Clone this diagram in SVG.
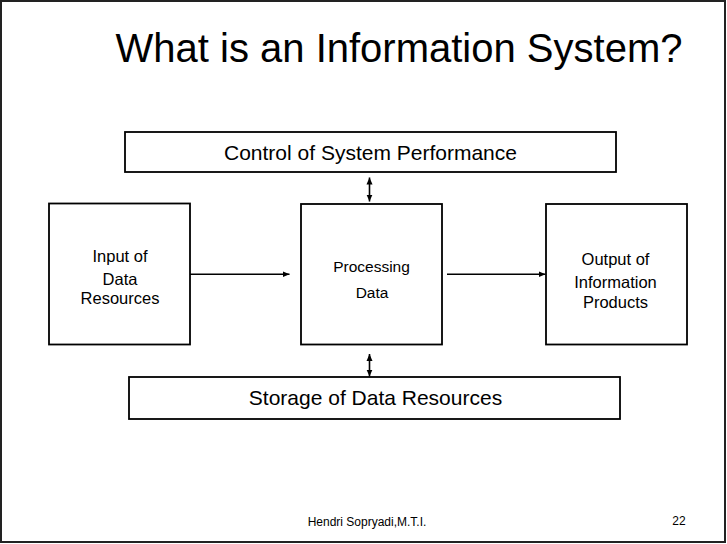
<svg xmlns="http://www.w3.org/2000/svg" width="727" height="544" viewBox="0 0 727 544">
<defs>
<style>
.box{fill:#fff;stroke:#000;stroke-width:1.8}
.t{font-family:"Liberation Sans",Arial,sans-serif;fill:#000;text-anchor:middle}
.c{stroke:#000;stroke-width:1.6;fill:none}
</style>
<marker id="ah" markerUnits="userSpaceOnUse" markerWidth="8" markerHeight="8" viewBox="0 0 8 8" refX="7" refY="4" orient="auto-start-reverse">
<path d="M0,1 L7,4 L0,7 Z" fill="#000"/>
</marker>
</defs>
<rect x="0" y="0" width="727" height="544" fill="#fff"/>
<rect x="1" y="1" width="724" height="541" fill="none" stroke="#222" stroke-width="2"/>
<text class="t" x="399" y="62" font-size="40">What is an Information System?</text>
<g id="control">
<rect class="box" x="125" y="132" width="491" height="40"/>
<text class="t" x="370.5" y="160" font-size="21">Control of System Performance</text>
</g>
<g id="input">
<rect class="box" x="49" y="203.5" width="141" height="141"/>
<text class="t" x="120" y="261.5" font-size="16.5">Input of</text>
<text class="t" x="120" y="285" font-size="16.5">Data</text>
<text class="t" x="120" y="304" font-size="16.5">Resources</text>
</g>
<g id="processing">
<rect class="box" x="301" y="204" width="141" height="140.5"/>
<text class="t" x="371.5" y="271.5" font-size="15.5">Processing</text>
<text class="t" x="372" y="298" font-size="15.5">Data</text>
</g>
<g id="output">
<rect class="box" x="546" y="204" width="141" height="140.5"/>
<text class="t" x="615.5" y="265" font-size="16.5">Output of</text>
<text class="t" x="615.5" y="287.5" font-size="16.5">Information</text>
<text class="t" x="615.5" y="308" font-size="16.5">Products</text>
</g>
<g id="storage">
<rect class="box" x="129" y="377" width="491" height="42"/>
<text class="t" x="375.5" y="405" font-size="21">Storage of Data Resources</text>
</g>
<g id="connectors">
<line class="c" x1="190" y1="274.3" x2="289.5" y2="274.3" marker-end="url(#ah)"/>
<line class="c" x1="447" y1="274.3" x2="545.5" y2="274.3" marker-end="url(#ah)"/>
<line class="c" x1="369.5" y1="177.5" x2="369.5" y2="201.5" marker-start="url(#ah)" marker-end="url(#ah)"/>
<line class="c" x1="369.5" y1="354" x2="369.5" y2="376.5" marker-start="url(#ah)" marker-end="url(#ah)"/>
</g>
<text class="t" x="367" y="526" font-size="12">Hendri Sopryadi,M.T.I.</text>
<text class="t" x="679" y="525" font-size="12">22</text>
</svg>
